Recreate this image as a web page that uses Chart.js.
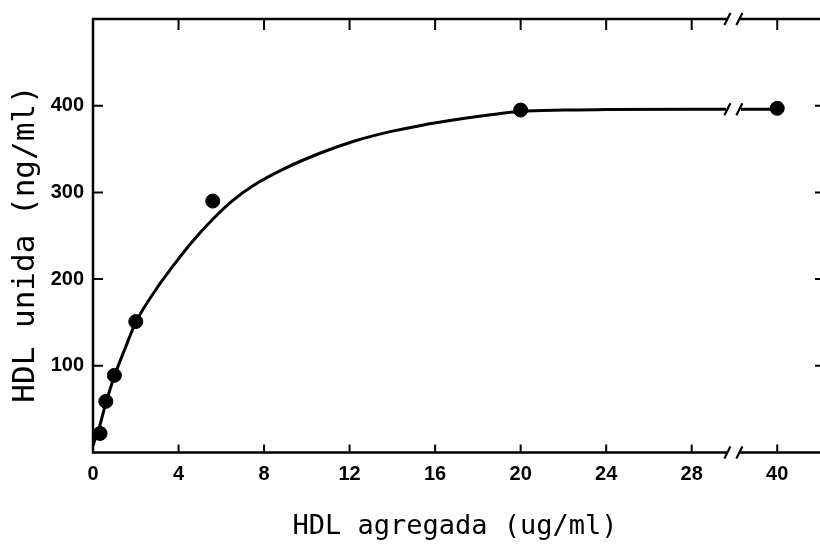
<!DOCTYPE html>
<html>
<head>
<meta charset="utf-8">
<script src="https://cdn.jsdelivr.net/npm/chart.js@4/dist/chart.umd.min.js"></script>
<style>
    html, body { margin: 0; padding: 0; background: #fff; }
    #wrap { width: 820px; height: 547px; }
</style>
</head>
<body>
<div id="wrap"><canvas id="chart" width="820" height="547"></canvas></div>
<script>
// measured points (x in ug/ml, y in ng/ml)
const pointX = [0.33, 0.6, 1.0, 2.0, 5.6, 20, 40];
const pointY = [22, 59, 89, 151, 290, 395, 397];

// fitted curve, left and right of the axis break
const curveLeftX = [0, 0.33, 0.6, 1, 1.5, 2, 3, 3.8, 4.6, 5.6, 6.5, 7.5, 9, 10.7, 12.2, 13.8, 15.4, 17, 18.6, 20, 22, 24, 28, 29.6];
const curveLeftY = [8, 32, 57, 88, 120, 150, 190, 217, 242, 269, 290, 308, 328, 346, 359, 369.5, 377.5, 384, 389.5, 393.5, 395, 395.5, 396, 396];
const curveRightX = [38.3, 40];
const curveRightY = [396, 396];

const xTickValues = [0, 4, 8, 12, 16, 20, 24, 28, 40];
const xTickLabels = ['0', '4', '8', '12', '16', '20', '24', '28', '40'];
const yTickValues = [100, 200, 300, 400];
const yTickLabels = ['100', '200', '300', '400'];

const xTitle = 'HDL agregada (ug/ml)';
const yTitle = 'HDL unida (ng/ml)';

// broken axis: everything past the break is shifted left by 8
const breakAt = 29.95;
const toAxis = x => x > 30 ? x - 8 : x;

const pts = (xs, ys) => xs.map((x, i) => ({ x: toAxis(x), y: ys[i] }));

const frame = {
    id: 'frame',
    afterDraw(chart) {
        const { ctx, chartArea: a } = chart;
        const xs = chart.scales.x, ys = chart.scales.y;
        const xb = xs.getPixelForValue(breakAt);
        const gap = 6;
        ctx.save();
        ctx.strokeStyle = '#000';
        ctx.lineWidth = 2.5;
        ctx.lineCap = 'butt';

        ctx.beginPath();
        ctx.moveTo(a.left, a.top - 1);
        ctx.lineTo(a.left, a.bottom + 1);
        [a.top, a.bottom].forEach(y => {
            ctx.moveTo(a.left - 1, y);
            ctx.lineTo(xb - gap, y);
            ctx.moveTo(xb + gap, y);
            ctx.lineTo(a.right, y);
        });
        ctx.stroke();

        // inward tick marks
        ctx.lineWidth = 2;
        ctx.beginPath();
        xTickValues.forEach(v => {
            const px = xs.getPixelForValue(toAxis(v));
            if (v > 0) {
                ctx.moveTo(px, a.bottom);
                ctx.lineTo(px, a.bottom - 8);
                ctx.moveTo(px, a.top);
                ctx.lineTo(px, a.top + 11);
            }
        });
        yTickValues.forEach(v => {
            const py = ys.getPixelForValue(v);
            ctx.moveTo(a.left, py);
            ctx.lineTo(a.left + 10, py);
            ctx.moveTo(a.right, py);
            ctx.lineTo(a.right - 5, py);
        });
        ctx.stroke();

        // break marks on both axes and on the curve
        ctx.lineWidth = 2.2;
        ctx.beginPath();
        [a.top, a.bottom, ys.getPixelForValue(396)].forEach(y => {
            [xb - gap, xb + gap].forEach(x => {
                ctx.moveTo(x - 3, y + 6);
                ctx.lineTo(x + 3, y - 6);
            });
        });
        ctx.stroke();

        // axis titles
        ctx.fillStyle = '#000';
        ctx.textAlign = 'center';
        ctx.textBaseline = 'middle';
        ctx.font = '27px "DejaVu Sans Mono"';
        ctx.fillText(xTitle, 455, 527);
        ctx.translate(26, 244);
        ctx.rotate(-Math.PI / 2);
        ctx.font = '31px "DejaVu Sans Mono"';
        ctx.fillText(yTitle, 0, 0);
        ctx.restore();
    }
};

new Chart(document.getElementById('chart'), {
    type: 'scatter',
    data: {
        datasets: [
            {
                type: 'line',
                data: pts(curveLeftX, curveLeftY),
                borderColor: '#000',
                borderWidth: 3,
                pointRadius: 0,
                cubicInterpolationMode: 'monotone',
                fill: false
            },
            {
                type: 'line',
                data: pts(curveRightX, curveRightY),
                borderColor: '#000',
                borderWidth: 3,
                pointRadius: 0,
                fill: false
            },
            {
                data: pts(pointX, pointY),
                backgroundColor: '#000',
                borderColor: '#000',
                pointRadius: 7,
                pointHoverRadius: 7
            }
        ]
    },
    options: {
        responsive: false,
        animation: false,
        layout: { autoPadding: false, padding: { top: 19, right: 0, left: 0, bottom: 0 } },
        plugins: { legend: { display: false }, tooltip: { enabled: false } },
        scales: {
            x: {
                type: 'linear',
                min: 0,
                max: 34,
                afterFit: s => { s.height = 94.5; s.paddingLeft = 0; s.paddingRight = 0; },
                afterBuildTicks: s => { s.ticks = xTickValues.map(v => ({ value: toAxis(v) })); },
                grid: { display: false, drawTicks: false },
                border: { display: false },
                ticks: {
                    padding: 10,
                    color: '#000',
                    font: { family: 'Liberation Sans', weight: 'bold', size: 20 },
                    maxRotation: 0,
                    autoSkip: false,
                    callback: (v, i) => xTickLabels[i]
                }
            },
            y: {
                min: 0,
                max: 500,
                afterFit: s => { s.width = 93; s.paddingTop = 0; s.paddingBottom = 0; },
                afterBuildTicks: s => { s.ticks = yTickValues.map(v => ({ value: v })); },
                grid: { display: false, drawTicks: false },
                border: { display: false },
                ticks: {
                    padding: 9,
                    color: '#000',
                    font: { family: 'Liberation Sans', weight: 'bold', size: 20 },
                    callback: (v, i) => yTickLabels[i]
                }
            }
        }
    },
    plugins: [frame]
});
</script>
</body>
</html>
